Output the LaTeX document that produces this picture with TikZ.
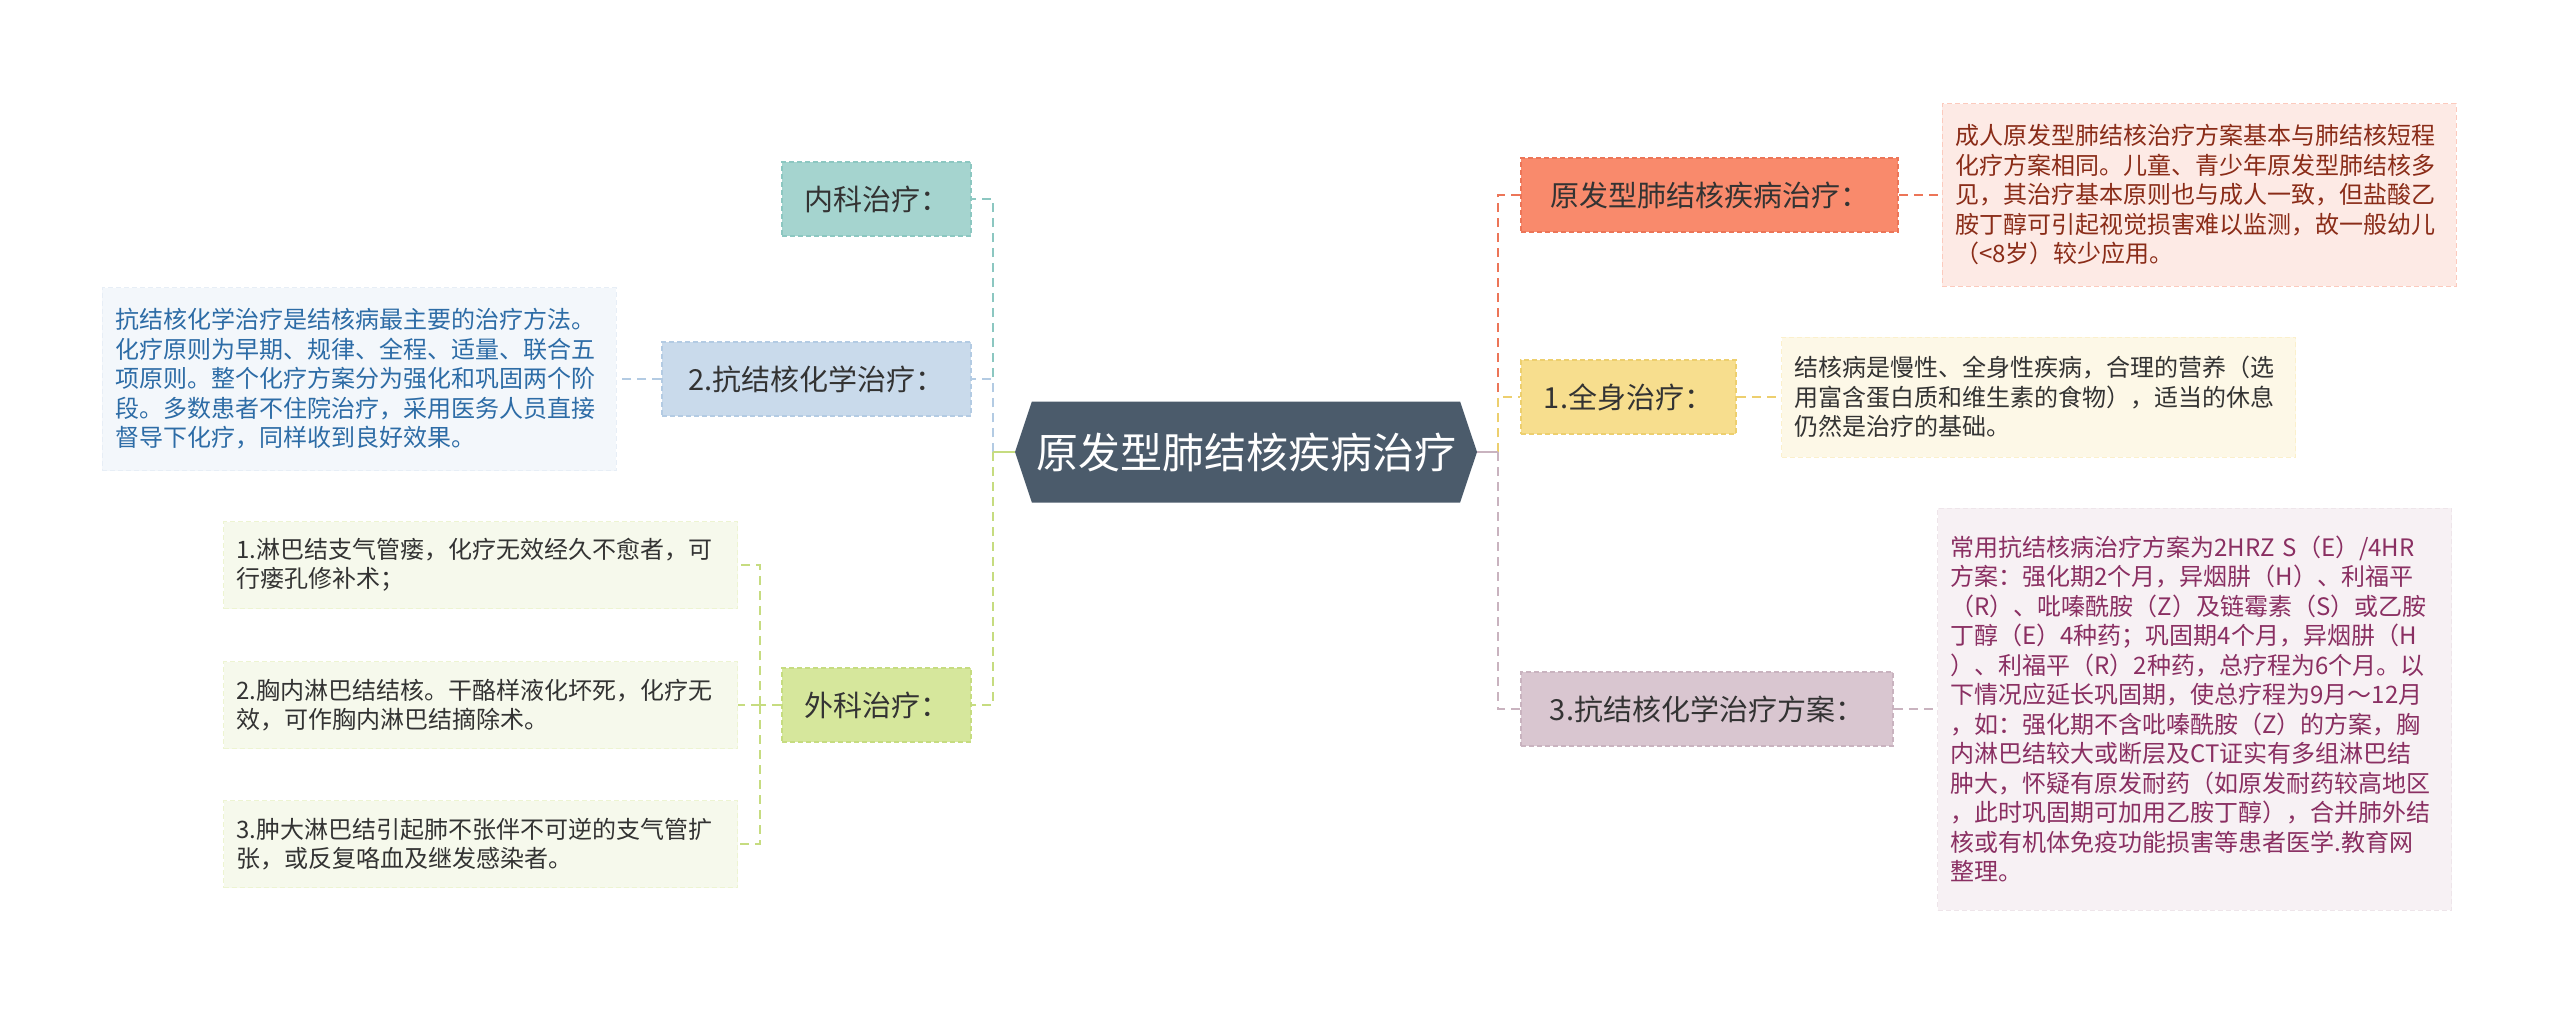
\documentclass[tikz,border=0pt]{standalone}
\usepackage{fontspec}
\setmainfont{Noto Sans CJK SC}
\usetikzlibrary{shapes.symbols}
\definecolor{cRoot}{HTML}{4B5B6B}
\definecolor{cTxt}{HTML}{333333}
\definecolor{cNei}{HTML}{A5D4CF}
\definecolor{cNeiL}{HTML}{8CC7C1}
\definecolor{cHua}{HTML}{C9DAEB}
\definecolor{cHuaL}{HTML}{B3CBE3}
\definecolor{cHuaN}{HTML}{F3F7FB}
\definecolor{cHuaT}{HTML}{2D6CA6}
\definecolor{cWai}{HTML}{D6E79C}
\definecolor{cWaiL}{HTML}{C6DC80}
\definecolor{cWaiN}{HTML}{F6F9EC}
\definecolor{cYuan}{HTML}{F98A6C}
\definecolor{cYuanL}{HTML}{EC7558}
\definecolor{cYuanN}{HTML}{FDEAE5}
\definecolor{cYuanT}{HTML}{8A2C18}
\definecolor{cQuan}{HTML}{F7DE8E}
\definecolor{cQuanL}{HTML}{EDCF6E}
\definecolor{cQuanN}{HTML}{FDF8E7}
\definecolor{cFang}{HTML}{D9C6D0}
\definecolor{cFangL}{HTML}{C9B3BF}
\definecolor{cFangN}{HTML}{F7F1F4}
\definecolor{cFangT}{HTML}{8A2F62}
\begin{document}
\begin{tikzpicture}[x=1pt,y=-1pt,
  lvl/.style={draw=#1L,fill=#1,dash pattern=on 5pt off 3pt,line width=1.5pt,
    minimum height=74pt,inner sep=0pt,text=cTxt,font=\fontsize{29}{34}\selectfont},
  note/.style={draw=#1!45,fill=#1N,dash pattern=on 5pt off 3pt,line width=1pt,
    align=left,text width=488pt,inner xsep=13pt,inner ysep=0pt,
    font=\fontsize{24}{29.5}\selectfont},
  link/.style={draw=#1,line width=2pt,dash pattern=on 9pt off 6pt},
  stub/.style={draw=#1,line width=2pt}]
\useasboundingbox (0,0) rectangle (2560,1014);
\node[signal,signal to=east and west,signal pointer angle=143,fill=cRoot,
  minimum width=462pt,minimum height=101pt,inner sep=0pt,text=white,
  font=\fontsize{42}{48}\selectfont] (root) at (1246,452) {原发型肺结核疾病治疗};
\coordinate (lbus) at (993,452);
\coordinate (rbus) at (1498,452);
\coordinate (wbus) at (760,705);
% % branches gauche
\node[lvl=cNei,minimum width=189pt] (neike) at (876.5,199) {内科治疗：};
\node[lvl=cHua,minimum width=309pt] (huaxue) at (816.5,379) {2.抗结核化学治疗：};
\node[lvl=cWai,minimum width=189pt] (waike) at (876.5,705) {外科治疗：};
\node[note=cHua,text=cHuaT,minimum height=183pt] (huaxueN) at (359,379)
  {抗结核化学治疗是结核病最主要的治疗方法。\\化疗原则为早期、规律、全程、适量、联合五\\项原则。整个化疗方案分为强化和巩固两个阶\\段。多数患者不住院治疗，采用医务人员直接\\督导下化疗，同样收到良好效果。};
\node[note=cWai,text=cTxt,minimum height=87pt] (waike1) at (480.5,565)
  {1.淋巴结支气管瘘，化疗无效经久不愈者，可\\行瘘孔修补术；};
\node[note=cWai,text=cTxt,minimum height=87pt] (waike2) at (480.5,705)
  {2.胸内淋巴结结核。干酪样液化坏死，化疗无\\效，可作胸内淋巴结摘除术。};
\node[note=cWai,text=cTxt,minimum height=87pt] (waike3) at (480.5,844)
  {3.肿大淋巴结引起肺不张伴不可逆的支气管扩\\张，或反复咯血及继发感染者。};
% % branches droite
\node[lvl=cYuan,minimum width=377pt] (yuanfa) at (1709.5,195) {原发型肺结核疾病治疗：};
\node[lvl=cQuan,minimum width=215pt] (quanshen) at (1628.5,397) {1.全身治疗：};
\node[lvl=cFang,minimum width=372pt] (fangan) at (1707,709) {3.抗结核化学治疗方案：};
\node[note=cYuan,text=cYuanT,minimum height=182pt] (yuanfaN) at (2199,195)
  {成人原发型肺结核治疗方案基本与肺结核短程\\化疗方案相同。儿童、青少年原发型肺结核多\\见，其治疗基本原则也与成人一致，但盐酸乙\\胺丁醇可引起视觉损害难以监测，故一般幼儿\\（<8岁）较少应用。};
\node[note=cQuan,text=cTxt,minimum height=120pt] (quanshenN) at (2038.5,397)
  {结核病是慢性、全身性疾病，合理的营养（选\\用富含蛋白质和维生素的食物），适当的休息\\仍然是治疗的基础。};
\node[note=cFang,text=cFangT,minimum height=402pt] (fanganN) at (2194.5,709)
  {常用抗结核病治疗方案为2HRZ S（E）/4HR\\方案：强化期2个月，异烟肼（H）、利福平\\（R）、吡嗪酰胺（Z）及链霉素（S）或乙胺\\丁醇（E）4种药；巩固期4个月，异烟肼（H\\）、利福平（R）2种药，总疗程为6个月。以\\下情况应延长巩固期，使总疗程为9月～12月\\，如：强化期不含吡嗪酰胺（Z）的方案，胸\\内淋巴结较大或断层及CT证实有多组淋巴结\\肿大，怀疑有原发耐药（如原发耐药较高地区\\，此时巩固期可加用乙胺丁醇），合并肺外结\\核或有机体免疫功能损害等患者医学.教育网\\整理。};
% % liens
\draw[link=cNeiL] (lbus) |- (neike);
\draw[link=cHuaL] (lbus) |- (huaxue);
\draw[link=cWaiL] (lbus) |- (waike);
\draw[stub=cWaiL] (root.west) -- (lbus);
\draw[link=cHuaL] (huaxue) -- (huaxueN);
\draw[link=cWaiL] (waike) -- (wbus);
\foreach \k in {1,2,3} \draw[link=cWaiL] (wbus) |- (waike\k);
\draw[link=cYuanL] (rbus) |- (yuanfa);
\draw[link=cQuanL] (rbus) |- (quanshen);
\draw[link=cFangL] (rbus) |- (fangan);
\draw[stub=cFangL] (root.east) -- (rbus);
\draw[link=cYuanL] (yuanfa) -- (yuanfaN);
\draw[link=cQuanL] (quanshen) -- (quanshenN);
\draw[link=cFangL] (fangan) -- (fanganN);
\end{tikzpicture}
\end{document}
